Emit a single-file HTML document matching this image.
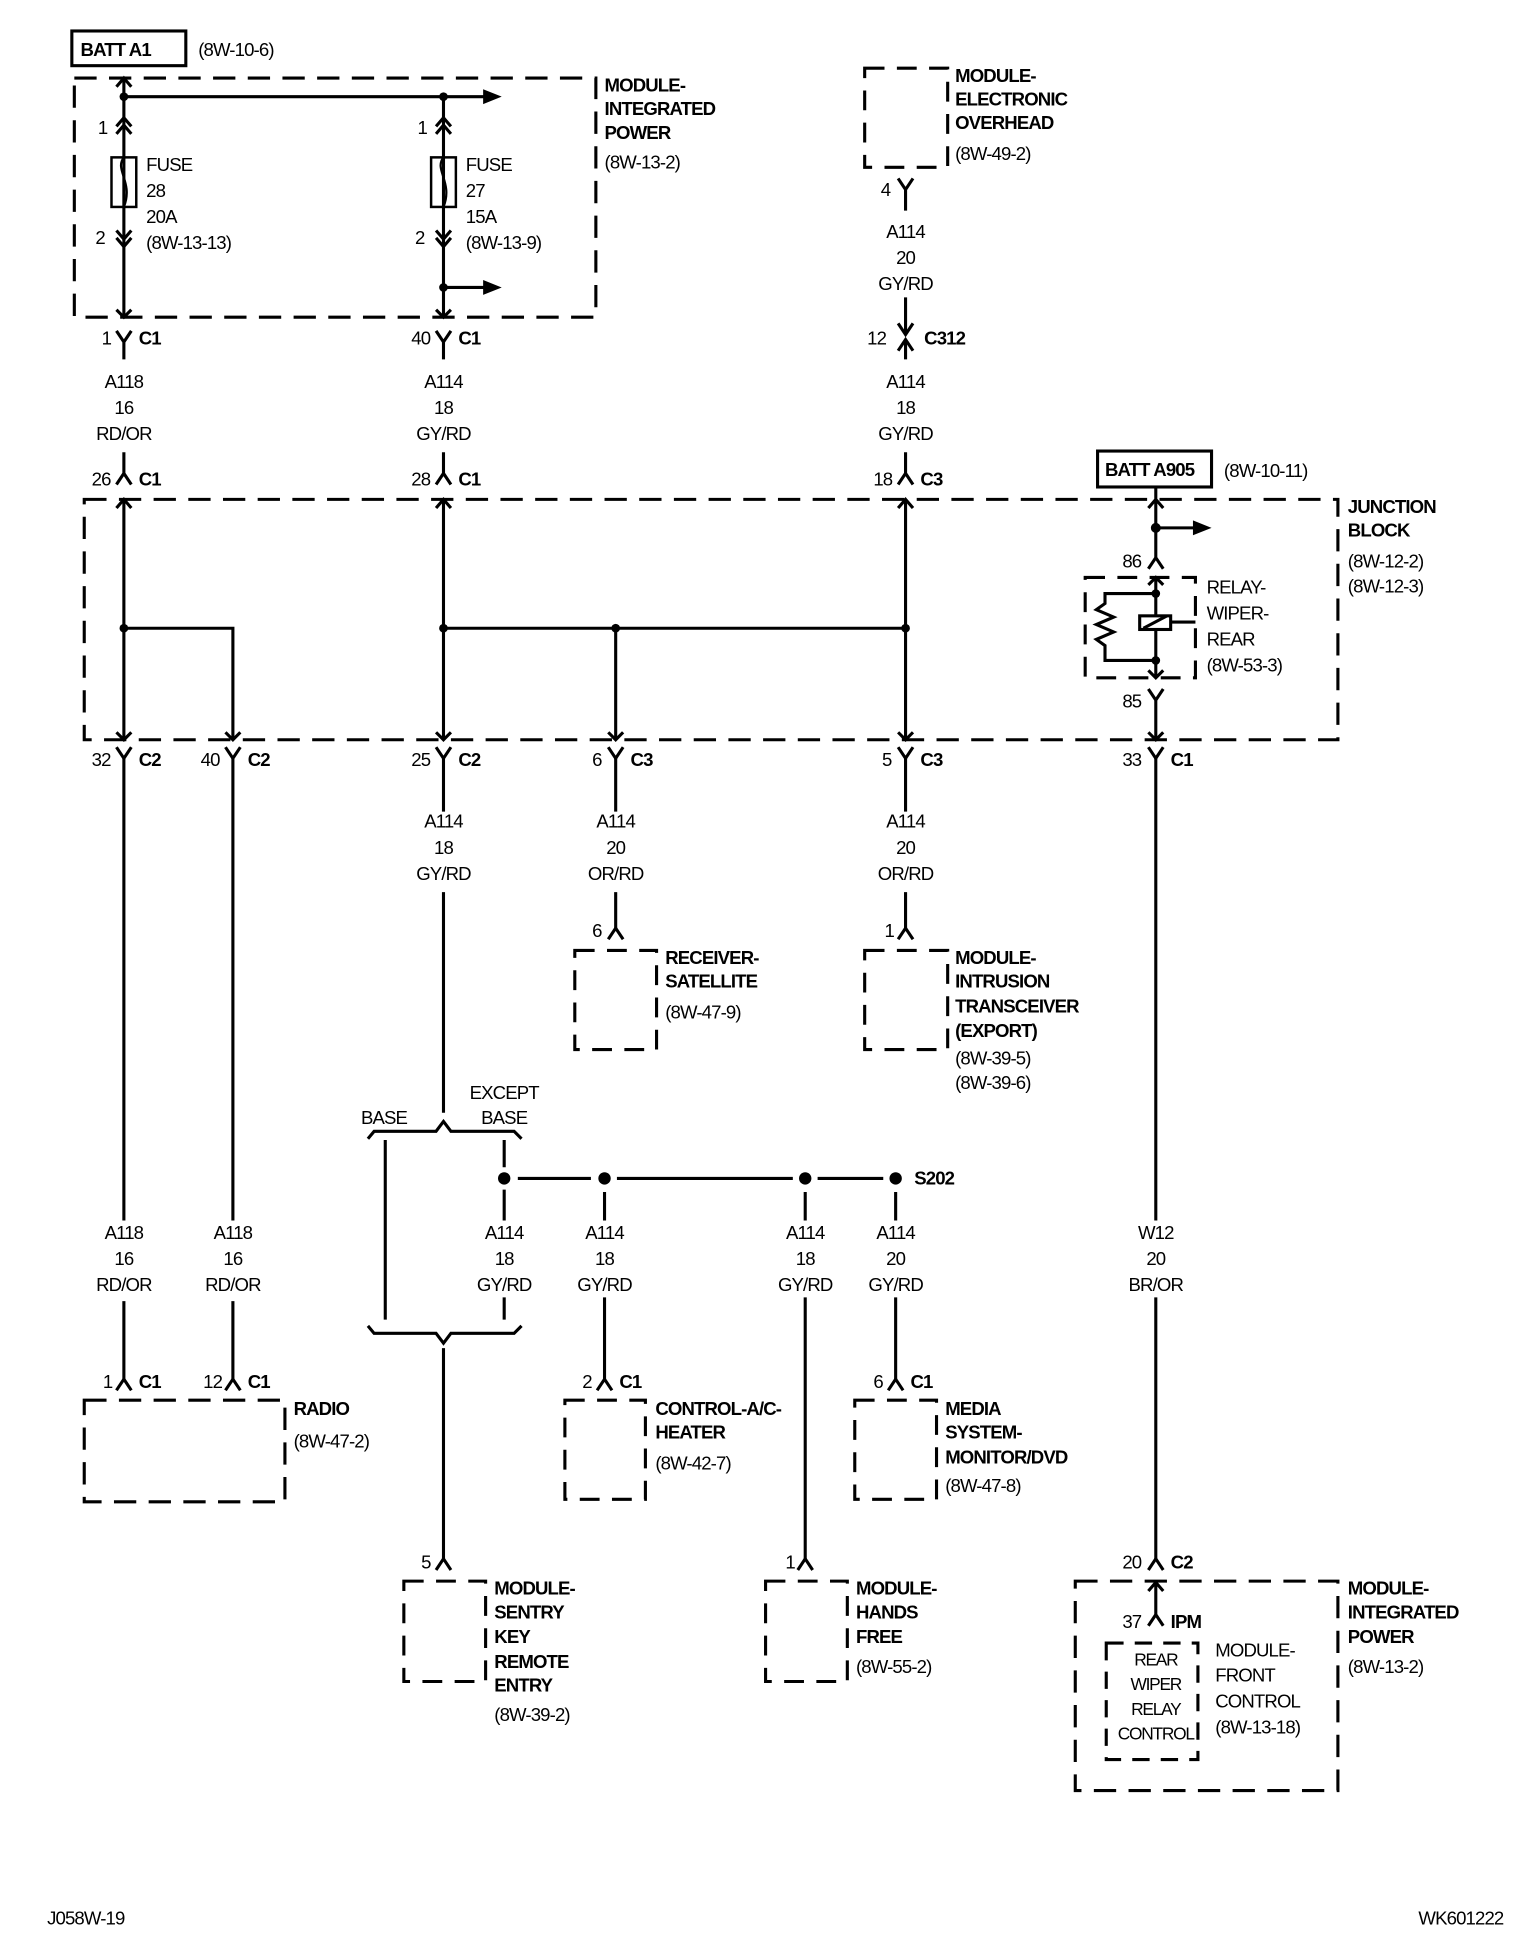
<!DOCTYPE html>
<html><head><meta charset="utf-8"><style>
html,body{margin:0;padding:0;background:#fff}
svg{display:block}
text{font-family:"Liberation Sans Narrow","Liberation Sans",sans-serif;font-size:15px;letter-spacing:-0.7px;fill:#000}
.b{font-weight:bold}
.m{text-anchor:middle}
.s{font-size:14px;letter-spacing:-1px}
</style></head><body>
<svg width="1520" height="1938" viewBox="0 0 1227 1564" preserveAspectRatio="none" xmlns="http://www.w3.org/2000/svg">
<g fill="none" stroke="#000" stroke-width="2.5">
<!-- top box -->
<rect x="58" y="25" width="92" height="28"/>
<rect x="60" y="63" width="421" height="193" stroke-dasharray="18,10"/>
<path d="M100 63V256M100 78H392M358 78V256M358 232H392"/>
<rect x="90" y="127" width="20" height="40" stroke-width="2"/>
<rect x="348" y="127" width="20" height="40" stroke-width="2"/>
<path d="M100 127c-8 10 8 20 0 40M358 127c-8 10 8 20 0 40" stroke-width="1.8"/>
<path d="M94 70l6-7 6 7M94 102l6-7 6 7M94 108l6-7 6 7M352 102l6-7 6 7M352 108l6-7 6 7M94 186l6 7 6-7M94 192l6 7 6-7M352 186l6 7 6-7M352 192l6 7 6-7M94 250l6 6 6-6M352 250l6 6 6-6"/>
<!-- overhead box -->
<rect x="698" y="55" width="67" height="80" stroke-dasharray="16,10"/>
<path d="M725 144l6 9 6-9M731 153V170M731 240V270M725 261l6 9 6-9M725 283l6-9 6 9M731 274V290M731 365V382M725 391l6-9 6 9"/>
<!-- wires between top and JB -->
<path d="M94 267l6 9 6-9M100 276V290M352 267l6 9 6-9M358 276V290"/>
<path d="M100 365V382M94 391l6-9 6 9M358 365V382M352 391l6-9 6 9"/>
<!-- junction block -->
<rect x="68" y="403" width="1012" height="194" stroke-dasharray="18,10"/>
<path d="M100 403V597M100 507H188V597M358 403V597M358 507H731M497 507V597M731 403V597"/>
<path d="M94 410l6-7 6 7M352 410l6-7 6 7M725 410l6-7 6 7M94 591l6 6 6-6M182 591l6 6 6-6M352 591l6 6 6-6M491 591l6 6 6-6M725 591l6 6 6-6"/>
<rect x="886" y="364" width="92" height="29"/>
<path d="M933 393V450M933 426H965M927 410l6-7 6 7M927 459l6-9 6 9M927 556l6 9 6-9M933 565V597M927 591l6 6 6-6"/>
<rect x="876" y="466" width="89" height="81" stroke-dasharray="16,10"/>
<path d="M927 472l6-6 6 6M927 541l6 6 6-6M933 466V547"/>
<path d="M933 479H892V487l-7 5 14 6-14 6 14 6-14 6 7 5V533H933"/>
<rect x="920" y="497" width="25" height="11" fill="#fff"/>
<path d="M923 507l19-10M945 502H965"/>
<!-- below JB -->
<path d="M94 603l6 9 6-9M182 603l6 9 6-9M352 603l6 9 6-9M491 603l6 9 6-9M725 603l6 9 6-9M927 603l6 9 6-9"/>
<path d="M100 612V985M188 612V985M358 612V655M358 720V898M497 612V655M497 720V749M731 612V655M731 720V749M933 612V985"/>
<path d="M491 758l6-9 6 9M725 758l6-9 6 9"/>
<rect x="464" y="767" width="66" height="80" stroke-dasharray="16,10"/>
<rect x="698" y="767" width="67" height="80" stroke-dasharray="16,10"/>
<!-- brackets -->
<path d="M297 919l5-6H352l6-8 6 8H415l6 6"/>
<path d="M297 1070l5 6H352l6 8 6-8H415l6-6"/>
<path d="M311 920V1065M407 920V942M407 960V985M407 1047V1065"/>
<path d="M418 951H477M498 951H640M660 951H713"/>
<path d="M488 962V985M650 962V985M723 962V985"/>
<path d="M100 1050V1113M188 1050V1113M488 1047V1113M650 1047V1258M723 1047V1113M358 1088V1258M933 1047V1258"/>
<path d="M94 1122l6-9 6 9M182 1122l6-9 6 9M482 1122l6-9 6 9M717 1122l6-9 6 9M352 1267l6-9 6 9M644 1267l6-9 6 9M927 1267l6-9 6 9"/>
<rect x="68" y="1130" width="162" height="82" stroke-dasharray="18,10"/>
<rect x="456" y="1130" width="65" height="80" stroke-dasharray="16,10"/>
<rect x="690" y="1130" width="66" height="80" stroke-dasharray="16,10"/>
<rect x="326" y="1276" width="66" height="81" stroke-dasharray="16,10"/>
<rect x="618" y="1276" width="66" height="81" stroke-dasharray="16,10"/>
<rect x="868" y="1276" width="212" height="169" stroke-dasharray="18,10"/>
<path d="M933 1276V1303M927 1284l6-7 6 7M927 1312l6-9 6 9"/>
<rect x="893" y="1326" width="74" height="94" stroke-dasharray="14,9"/>
</g>
<g fill="#000">
<circle cx="100" cy="78" r="3.5"/><circle cx="358" cy="78" r="3.5"/><circle cx="358" cy="232" r="3.5"/>
<circle cx="100" cy="507" r="3.5"/><circle cx="358" cy="507" r="3.5"/><circle cx="497" cy="507" r="3.5"/><circle cx="731" cy="507" r="3.5"/>
<circle cx="933" cy="426" r="4"/><circle cx="933" cy="479" r="3.5"/><circle cx="933" cy="533" r="3.5"/>
<circle cx="407" cy="951" r="5"/><circle cx="488" cy="951" r="5"/><circle cx="650" cy="951" r="5"/><circle cx="723" cy="951" r="5"/>
<path d="M390 72L405 78 390 84zM390 226L405 232 390 238zM963 420L978 426 963 432z"/>
</g>
<text class="b" x="65" y="45">BATT A1</text><text x="160" y="45">(8W-10-6)</text>
<text class="b" x="488" y="74">MODULE-</text><text class="b" x="488" y="93">INTEGRATED</text><text class="b" x="488" y="112">POWER</text><text x="488" y="136">(8W-13-2)</text>
<text x="79" y="108">1</text><text x="337" y="108">1</text><text x="77" y="197">2</text><text x="335" y="197">2</text>
<text x="118" y="138">FUSE</text><text x="118" y="159">28</text><text x="118" y="180">20A</text><text x="118" y="201">(8W-13-13)</text>
<text x="376" y="138">FUSE</text><text x="376" y="159">27</text><text x="376" y="180">15A</text><text x="376" y="201">(8W-13-9)</text>
<text class="b" x="771" y="66">MODULE-</text><text class="b" x="771" y="85">ELECTRONIC</text><text class="b" x="771" y="104">OVERHEAD</text><text x="771" y="129">(8W-49-2)</text>
<text x="711" y="158">4</text>
<text class="m" x="731" y="192">A114</text><text class="m" x="731" y="213">20</text><text class="m" x="731" y="234">GY/RD</text>
<text x="700" y="278">12</text><text class="b" x="746" y="278">C312</text>
<text class="m" x="731" y="313">A114</text><text class="m" x="731" y="334">18</text><text class="m" x="731" y="355">GY/RD</text>
<text x="82" y="278">1</text><text class="b" x="112" y="278">C1</text><text x="332" y="278">40</text><text class="b" x="370" y="278">C1</text>
<text class="m" x="100" y="313">A118</text><text class="m" x="100" y="334">16</text><text class="m" x="100" y="355">RD/OR</text>
<text class="m" x="358" y="313">A114</text><text class="m" x="358" y="334">18</text><text class="m" x="358" y="355">GY/RD</text>
<text x="74" y="392">26</text><text class="b" x="112" y="392">C1</text><text x="332" y="392">28</text><text class="b" x="370" y="392">C1</text><text x="705" y="392">18</text><text class="b" x="743" y="392">C3</text>
<text class="b" x="892" y="384">BATT A905</text><text x="988" y="385">(8W-10-11)</text>
<text class="b" x="1088" y="414">JUNCTION</text><text class="b" x="1088" y="433">BLOCK</text><text x="1088" y="458">(8W-12-2)</text><text x="1088" y="478">(8W-12-3)</text>
<text x="906" y="458">86</text><text x="906" y="571">85</text>
<text x="974" y="479">RELAY-</text><text x="974" y="500">WIPER-</text><text x="974" y="521">REAR</text><text x="974" y="542">(8W-53-3)</text>
<text x="74" y="618">32</text><text class="b" x="112" y="618">C2</text><text x="162" y="618">40</text><text class="b" x="200" y="618">C2</text>
<text x="332" y="618">25</text><text class="b" x="370" y="618">C2</text><text x="478" y="618">6</text><text class="b" x="509" y="618">C3</text>
<text x="712" y="618">5</text><text class="b" x="743" y="618">C3</text><text x="906" y="618">33</text><text class="b" x="945" y="618">C1</text>
<text class="m" x="358" y="668">A114</text><text class="m" x="358" y="689">18</text><text class="m" x="358" y="710">GY/RD</text>
<text class="m" x="497" y="668">A114</text><text class="m" x="497" y="689">20</text><text class="m" x="497" y="710">OR/RD</text>
<text class="m" x="731" y="668">A114</text><text class="m" x="731" y="689">20</text><text class="m" x="731" y="710">OR/RD</text>
<text x="478" y="756">6</text><text x="714" y="756">1</text>
<text class="b" x="537" y="778">RECEIVER-</text><text class="b" x="537" y="797">SATELLITE</text><text x="537" y="822">(8W-47-9)</text>
<text class="b" x="771" y="778">MODULE-</text><text class="b" x="771" y="797">INTRUSION</text><text class="b" x="771" y="817">TRANSCEIVER</text><text class="b" x="771" y="837">(EXPORT)</text><text x="771" y="859">(8W-39-5)</text><text x="771" y="879">(8W-39-6)</text>
<text class="m" x="310" y="907">BASE</text><text class="m" x="407" y="887">EXCEPT</text><text class="m" x="407" y="907">BASE</text>
<text class="b" x="738" y="956">S202</text>
<text class="m" x="100" y="1000">A118</text><text class="m" x="100" y="1021">16</text><text class="m" x="100" y="1042">RD/OR</text>
<text class="m" x="188" y="1000">A118</text><text class="m" x="188" y="1021">16</text><text class="m" x="188" y="1042">RD/OR</text>
<text class="m" x="407" y="1000">A114</text><text class="m" x="407" y="1021">18</text><text class="m" x="407" y="1042">GY/RD</text>
<text class="m" x="488" y="1000">A114</text><text class="m" x="488" y="1021">18</text><text class="m" x="488" y="1042">GY/RD</text>
<text class="m" x="650" y="1000">A114</text><text class="m" x="650" y="1021">18</text><text class="m" x="650" y="1042">GY/RD</text>
<text class="m" x="723" y="1000">A114</text><text class="m" x="723" y="1021">20</text><text class="m" x="723" y="1042">GY/RD</text>
<text class="m" x="933" y="1000">W12</text><text class="m" x="933" y="1021">20</text><text class="m" x="933" y="1042">BR/OR</text>
<text x="83" y="1120">1</text><text class="b" x="112" y="1120">C1</text><text x="164" y="1120">12</text><text class="b" x="200" y="1120">C1</text>
<text x="470" y="1120">2</text><text class="b" x="500" y="1120">C1</text><text x="705" y="1120">6</text><text class="b" x="735" y="1120">C1</text>
<text class="b" x="237" y="1142">RADIO</text><text x="237" y="1168">(8W-47-2)</text>
<text class="b" x="529" y="1142">CONTROL-A/C-</text><text class="b" x="529" y="1161">HEATER</text><text x="529" y="1186">(8W-42-7)</text>
<text class="b" x="763" y="1142">MEDIA</text><text class="b" x="763" y="1161">SYSTEM-</text><text class="b" x="763" y="1181">MONITOR/DVD</text><text x="763" y="1204">(8W-47-8)</text>
<text x="340" y="1266">5</text><text x="634" y="1266">1</text><text x="906" y="1266">20</text><text class="b" x="945" y="1266">C2</text>
<text class="b" x="399" y="1287">MODULE-</text><text class="b" x="399" y="1306">SENTRY</text><text class="b" x="399" y="1326">KEY</text><text class="b" x="399" y="1346">REMOTE</text><text class="b" x="399" y="1365">ENTRY</text><text x="399" y="1389">(8W-39-2)</text>
<text class="b" x="691" y="1287">MODULE-</text><text class="b" x="691" y="1306">HANDS</text><text class="b" x="691" y="1326">FREE</text><text x="691" y="1350">(8W-55-2)</text>
<text class="b" x="1088" y="1287">MODULE-</text><text class="b" x="1088" y="1306">INTEGRATED</text><text class="b" x="1088" y="1326">POWER</text><text x="1088" y="1350">(8W-13-2)</text>
<text x="906" y="1314">37</text><text class="b" x="945" y="1314">IPM</text>
<text class="m s" x="933" y="1344">REAR</text><text class="m s" x="933" y="1364">WIPER</text><text class="m s" x="933" y="1384">RELAY</text><text class="m s" x="933" y="1404">CONTROL</text>
<text x="981" y="1337">MODULE-</text><text x="981" y="1357">FRONT</text><text x="981" y="1378">CONTROL</text><text x="981" y="1399">(8W-13-18)</text>
<text x="38" y="1553">J058W-19</text><text x="1145" y="1553">WK601222</text>
</svg>
</body></html>
